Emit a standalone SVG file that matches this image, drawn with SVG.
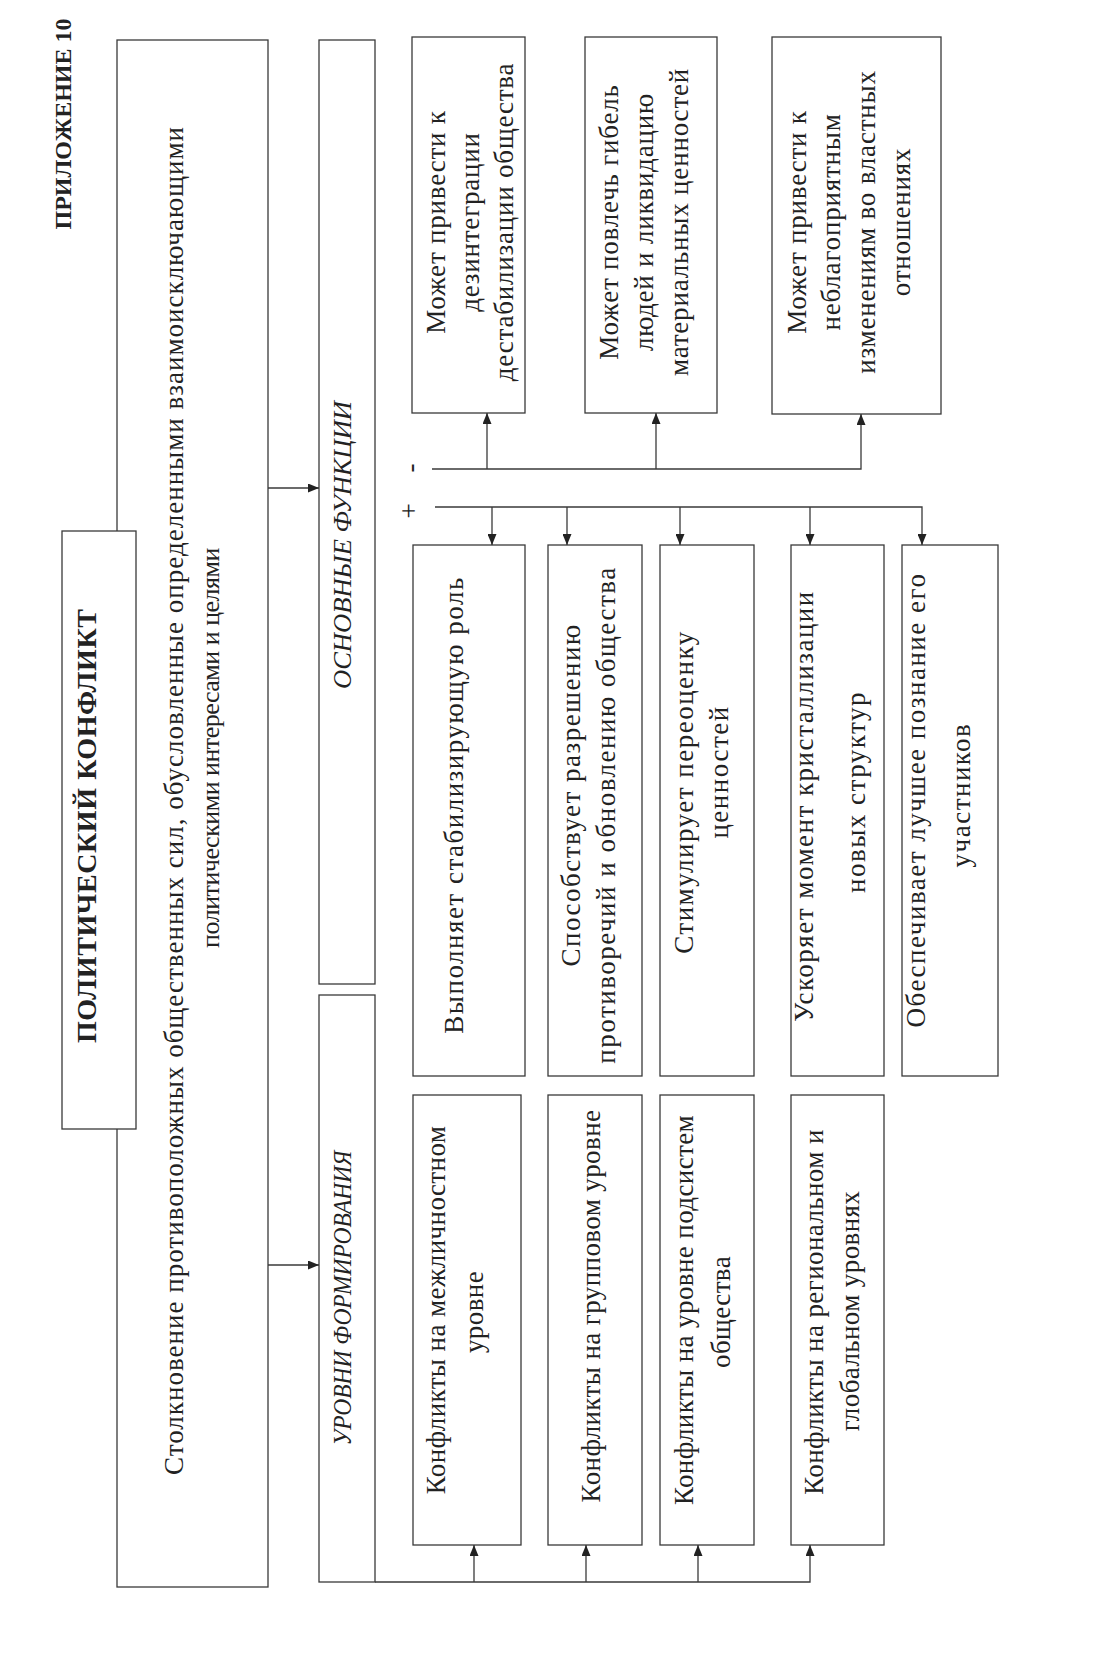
<svg xmlns="http://www.w3.org/2000/svg" width="1103" height="1658" viewBox="0 0 1103 1658">
<style>
.box{fill:#fff;stroke:#3a3a3a;stroke-width:1.3}
.ln{fill:none;stroke:#3a3a3a;stroke-width:1.3}
.t{font-family:"Liberation Serif","Times New Roman",serif;font-size:27px;fill:#222;text-anchor:middle}
.b{font-weight:bold}
.i{font-style:italic;font-size:26px}
.n{letter-spacing:0.8px}
.p{letter-spacing:1.5px}
.l{letter-spacing:0.4px}
</style>
<defs>
<marker id="ah" viewBox="0 0 11 9" refX="11" refY="4.5" markerWidth="11" markerHeight="9" markerUnits="userSpaceOnUse" orient="auto">
<path d="M0,0 L11,4.5 L0,9 z" fill="#222"/>
</marker>
</defs>
<rect width="1103" height="1658" fill="#fff"/>

<g id="appendix">
<text class="t b" style="font-size:24px" transform="translate(71,124) rotate(-90)">ПРИЛОЖЕНИЕ 10</text>
</g>

<g id="definition">
<rect class="box" x="117" y="40" width="151" height="1547"/>
<text class="t" textLength="1348" lengthAdjust="spacing" transform="translate(183,801) rotate(-90)">Столкновение противоположных общественных сил, обусловленные определенными взаимоисключающими</text>
<text class="t" style="font-size:26px;letter-spacing:-0.5px" transform="translate(219,748) rotate(-90)">политическими интересами и целями</text>
</g>

<g id="title">
<rect class="box" x="62" y="531" width="74" height="598"/>
<text class="t b" style="font-size:28px" textLength="434" lengthAdjust="spacing" transform="translate(96,826) rotate(-90)">ПОЛИТИЧЕСКИЙ КОНФЛИКТ</text>
</g>

<g id="functions">
<rect class="box" x="319" y="40" width="56" height="944"/>
<text class="t i" textLength="288" lengthAdjust="spacingAndGlyphs" transform="translate(351,545) rotate(-90)">ОСНОВНЫЕ ФУНКЦИИ</text>
</g>

<g id="levels">
<rect class="box" x="319" y="995" width="56" height="587"/>
<text class="t i" textLength="295" lengthAdjust="spacingAndGlyphs" transform="translate(351,1298) rotate(-90)">УРОВНИ ФОРМИРОВАНИЯ</text>
</g>

<g id="neg1">
<rect class="box" x="412" y="37" width="113" height="376"/>
<text class="t n" transform="translate(445,222) rotate(-90)">Может привести к</text>
<text class="t n" transform="translate(479,222) rotate(-90)">дезинтеграции</text>
<text class="t n" transform="translate(513,222) rotate(-90)">дестабилизации общества</text>
</g>
<g id="neg2">
<rect class="box" x="585" y="37" width="132" height="376"/>
<text class="t n" transform="translate(618,222) rotate(-90)">Может повлечь гибель</text>
<text class="t n" transform="translate(653,222) rotate(-90)">людей и ликвидацию</text>
<text class="t n" transform="translate(688,222) rotate(-90)">материальных ценностей</text>
</g>
<g id="neg3">
<rect class="box" x="772" y="37" width="169" height="377"/>
<text class="t n" transform="translate(806,222) rotate(-90)">Может привести к</text>
<text class="t n" transform="translate(840,222) rotate(-90)">неблагоприятным</text>
<text class="t n" transform="translate(875,222) rotate(-90)">изменениям во властных</text>
<text class="t n" transform="translate(910,222) rotate(-90)">отношениях</text>
</g>

<g id="minus-label"><text class="t" transform="translate(419,468) rotate(-90)">-</text></g>
<g id="plus-label"><text class="t" transform="translate(418,511) rotate(-90)">+</text></g>

<g id="pos1">
<rect class="box" x="413" y="545" width="112" height="531"/>
<text class="t p" transform="translate(463,805) rotate(-90)">Выполняет стабилизирующую роль</text>
</g>
<g id="pos2">
<rect class="box" x="548" y="545" width="94" height="531"/>
<text class="t p" transform="translate(580,795) rotate(-90)">Способствует разрешению</text>
<text class="t p" transform="translate(615,815) rotate(-90)">противоречий и обновлению общества</text>
</g>
<g id="pos3">
<rect class="box" x="660" y="545" width="94" height="531"/>
<text class="t p" transform="translate(693,792) rotate(-90)">Стимулирует переоценку</text>
<text class="t p" transform="translate(728,772) rotate(-90)">ценностей</text>
</g>
<g id="pos4">
<rect class="box" x="791" y="545" width="93" height="531"/>
<text class="t p" transform="translate(813,806) rotate(-90)">Ускоряет момент кристаллизации</text>
<text class="t p" transform="translate(865,792) rotate(-90)">новых структур</text>
</g>
<g id="pos5">
<rect class="box" x="902" y="545" width="96" height="531"/>
<text class="t p" transform="translate(925,800) rotate(-90)">Обеспечивает лучшее познание его</text>
<text class="t p" transform="translate(970,795) rotate(-90)">участников</text>
</g>

<g id="lvl1">
<rect class="box" x="413" y="1095" width="108" height="450"/>
<text class="t l" transform="translate(445,1310) rotate(-90)">Конфликты на межличностном</text>
<text class="t l" transform="translate(483,1312) rotate(-90)">уровне</text>
</g>
<g id="lvl2">
<rect class="box" x="548" y="1095" width="94" height="450"/>
<text class="t l" transform="translate(600,1306) rotate(-90)">Конфликты на групповом уровне</text>
</g>
<g id="lvl3">
<rect class="box" x="660" y="1095" width="94" height="450"/>
<text class="t l" transform="translate(693,1310) rotate(-90)">Конфликты на уровне подсистем</text>
<text class="t l" transform="translate(730,1312) rotate(-90)">общества</text>
</g>
<g id="lvl4">
<rect class="box" x="791" y="1095" width="93" height="450"/>
<text class="t l" transform="translate(823,1312) rotate(-90)">Конфликты на региональном и</text>
<text class="t l" transform="translate(859,1311) rotate(-90)">глобальном уровнях</text>
</g>

<g id="connectors">
<line class="ln" x1="268" y1="488" x2="319" y2="488" marker-end="url(#ah)"/>
<line class="ln" x1="268" y1="1265" x2="319" y2="1265" marker-end="url(#ah)"/>
<polyline class="ln" points="432,469 861,469 861,414" marker-end="url(#ah)"/>
<line class="ln" x1="487" y1="469" x2="487" y2="413" marker-end="url(#ah)"/>
<line class="ln" x1="656" y1="469" x2="656" y2="413" marker-end="url(#ah)"/>
<polyline class="ln" points="435,507 922,507 922,545" marker-end="url(#ah)"/>
<line class="ln" x1="492" y1="507" x2="492" y2="545" marker-end="url(#ah)"/>
<line class="ln" x1="567" y1="507" x2="567" y2="545" marker-end="url(#ah)"/>
<line class="ln" x1="680" y1="507" x2="680" y2="545" marker-end="url(#ah)"/>
<line class="ln" x1="810" y1="507" x2="810" y2="545" marker-end="url(#ah)"/>
<polyline class="ln" points="375,1582 810,1582 810,1545" marker-end="url(#ah)"/>
<line class="ln" x1="474" y1="1582" x2="474" y2="1545" marker-end="url(#ah)"/>
<line class="ln" x1="586" y1="1582" x2="586" y2="1545" marker-end="url(#ah)"/>
<line class="ln" x1="698" y1="1582" x2="698" y2="1545" marker-end="url(#ah)"/>
</g>
</svg>
